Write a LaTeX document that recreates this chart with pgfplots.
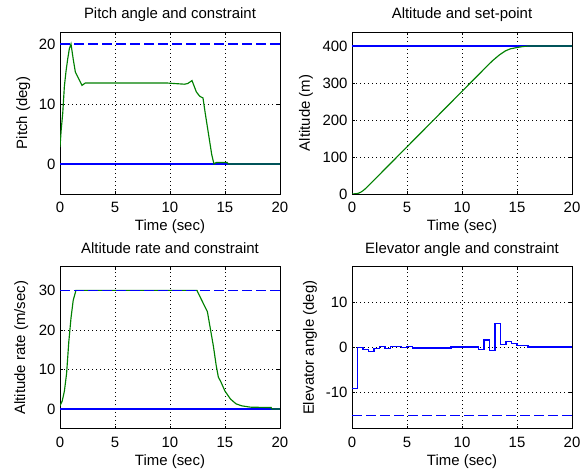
\documentclass[border=0pt]{standalone}
\usepackage{fontspec}
\setmainfont{Liberation Sans}
\usepackage{pgfplots}
\pgfplotsset{compat=1.18}

\definecolor{mgreen}{rgb}{0,0.5,0}
\definecolor{mblue}{rgb}{0,0,1}

\pgfplotsset{
  mlab/.style={
    scale only axis, width=220bp, height=162bp, anchor=south west,
    xmin=0, xmax=20, xtick={0,5,...,20},
    xmajorgrids=true, ymajorgrids=false,
    major grid style={black, line width=0.5bp, dash pattern=on 0.8bp off 3.2bp},
    extra y tick labels={},
    extra y tick style={ymajorgrids=true},
    tick align=inside, major tick length=3bp,
    axis line style={line width=0.6bp},
    every tick/.style={black, line width=0.5bp},
    font=\fontsize{15}{17}\selectfont,
    /pgf/number format/assume math mode=true,
    xlabel={Time (sec)},
    title style={at={(axis description cs:0.5,1)}, anchor=base, yshift=7.5bp},
    xlabel style={at={(axis description cs:0.5,0)}, anchor=base, yshift=-36.5bp},
    xticklabel style={anchor=base, yshift=-19bp},
    yticklabel style={xshift=-1bp},
  },
  ylab/.style={ylabel style={at={(axis description cs:#1,0.5)}, anchor=base}},
  sig/.style={line width=1.15bp},
  lim/.style={mblue, line width=1.15bp, dash pattern=on 9.5bp off 4.5bp},
}

\begin{document}
\begin{tikzpicture}
\useasboundingbox (0,0) rectangle (584bp,476bp);

% pitch
\begin{axis}[mlab, at={(60bp,282bp)}, ymin=-5, ymax=22, ytick={0,10,20},
  extra y ticks={10}, ylab=-0.150,
  title={Pitch angle and constraint}, ylabel={Pitch (deg)}]
\addplot[mblue, sig] coordinates {(0,0) (20,0)};
\addplot[lim] coordinates {(0,20) (20,20)};
\addplot[mgreen, sig] coordinates {
  (0,2.8) (0.1,5.5) (0.25,8.5) (0.4,13) (0.55,15.5) (0.7,17.5) (0.85,19.2)
  (1.0,20) (1.2,17.5) (1.4,15.3) (1.7,14.2) (2.0,13.1) (2.3,13.5) (9.7,13.5)
  (11.3,13.3) (11.6,13.4) (12.0,13.9) (12.4,12) (12.7,11.3) (13.0,11)
  (13.2,8.5) (13.5,5) (13.8,1.5) (14.0,0) (14.2,0.25) (15.2,0.25) (15.3,0) (20,0)};
\end{axis}

% altitude
\begin{axis}[mlab, at={(352bp,282bp)}, ymin=0, ymax=438, ytick={0,100,...,400},
  extra y ticks={100,200,300}, ylab=-0.192,
  title={Altitude and set-point}, ylabel={Altitude (m)}]
\addplot[mblue, sig] coordinates {(0,400) (20,400)};
\addplot[mgreen, sig] coordinates {
  (0,0) (0.4,0.9) (0.6,2.3) (0.8,4.9) (1.0,8.9) (1.2,13.9) (1.45,21)
  (12.45,351) (12.8,361) (13.4,376) (13.95,387) (14.4,392.5) (15,396)
  (15.5,398.5) (16,400) (20,400)};
\end{axis}

% altitude rate
\begin{axis}[mlab, at={(60bp,47.3bp)}, ymin=-5, ymax=36, ytick={0,10,20,30},
  extra y ticks={10,20}, ylab=-0.158,
  title={Altitude rate and constraint}, ylabel={Altitude rate (m/sec)}]
\addplot[mblue, sig] coordinates {(0,0) (20,0)};
\addplot[mgreen, sig] coordinates {
  (0,0.8) (0.2,2) (0.4,4.5) (0.6,9) (0.8,17) (1.0,23) (1.2,27.5) (1.45,30)
  (12.45,30) (12.8,28) (13.4,24.6) (13.65,20.6) (13.95,15.8) (14.2,11)
  (14.4,8) (14.6,7) (15.0,4.5) (15.5,2.5) (16.0,1.3) (16.5,0.8) (17.3,0.45)
  (19.2,0.35) (19.25,0) (20,0)};
\addplot[lim] coordinates {(0,30) (20,30)};
\end{axis}

% elevator
\begin{axis}[mlab, at={(352bp,47.3bp)}, ymin=-18, ymax=18, ytick={-10,0,10},
  extra y ticks={-10,0,10}, ylab=-0.173,
  title={Elevator angle and constraint}, ylabel={Elevator angle (deg)}]
\addplot[lim] coordinates {(0,-15) (20,-15)};
\addplot[mblue, sig, const plot] coordinates {
  (0,-9) (0.5,0) (1,-0.4) (1.5,-0.9) (2,-0.2) (2.5,0.2) (3,-0.1) (3.5,0.2)
  (4.5,0) (5,0.2) (5.5,-0.05) (9,0.15) (11.5,-0.35) (12,1.7) (12.5,-0.6)
  (13,5.3) (13.5,0.7) (14,1.4) (14.5,1.0) (15,0.4) (16,0.15) (20,0.15)};
\end{axis}
\end{tikzpicture}
\end{document}
